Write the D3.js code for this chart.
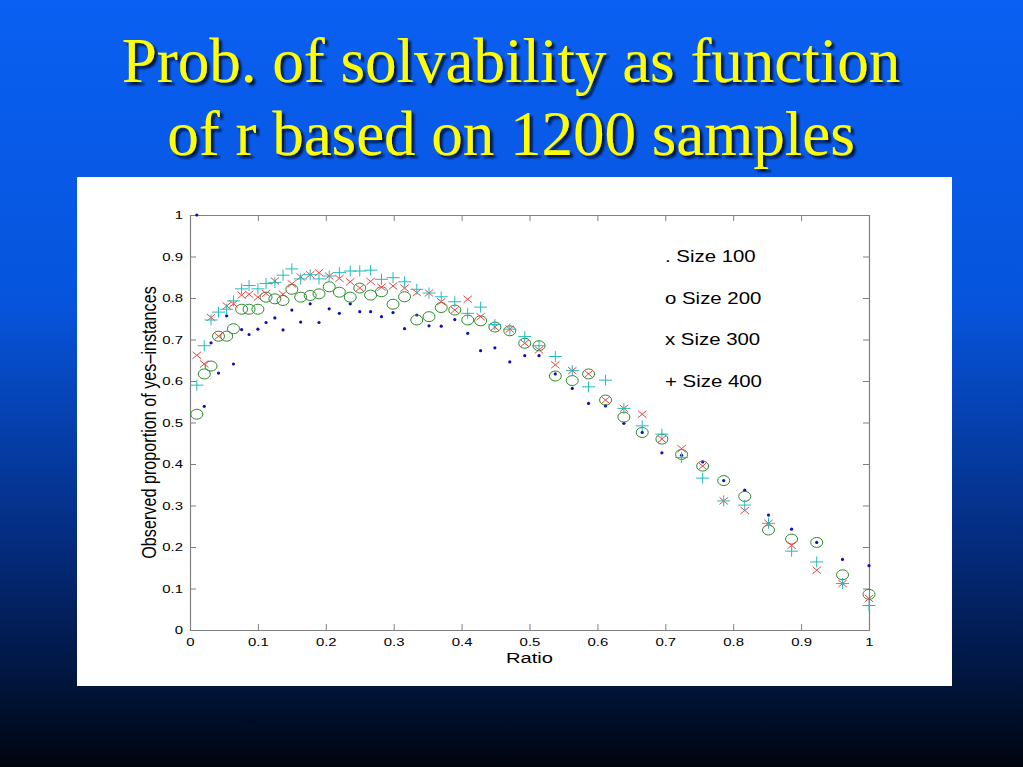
<!DOCTYPE html>
<html>
<head>
<meta charset="utf-8">
<script src="https://cdn.jsdelivr.net/npm/d3@7"></script>
<style>
  html, body { margin: 0; padding: 0; overflow: hidden; }
  body { width: 1023px; height: 767px; }
</style>
</head>
<body>
<div id="wrapper"></div>
<script>
// ratio values (x), shared by all four sample sizes
const ratio = [0.010, 0.021, 0.031, 0.042, 0.054, 0.064, 0.076, 0.087, 0.100, 0.112,
               0.125, 0.137, 0.150, 0.163, 0.177, 0.190, 0.205, 0.220, 0.236, 0.250,
               0.266, 0.282, 0.299, 0.316, 0.334, 0.352, 0.370, 0.390, 0.409, 0.428,
               0.449, 0.471, 0.493, 0.514, 0.538, 0.563, 0.587, 0.612, 0.639, 0.666,
               0.695, 0.724, 0.755, 0.786, 0.817, 0.852, 0.886, 0.923, 0.961, 1.000];

const size100 = [1.000, 0.539, 0.692, 0.619, 0.757, 0.641, 0.724, 0.712, 0.725, 0.741,
                 0.752, 0.723, 0.771, 0.742, 0.786, 0.741, 0.774, 0.763, 0.786, 0.767,
                 0.767, 0.755, 0.765, 0.726, 0.759, 0.733, 0.732, 0.748, 0.715, 0.673,
                 0.680, 0.646, 0.661, 0.661, 0.617, 0.582, 0.546, 0.540, 0.498, 0.476,
                 0.427, 0.421, 0.405, 0.360, 0.337, 0.277, 0.243, 0.211, 0.170, 0.155];

const size200 = [0.520, 0.617, 0.636, 0.708, 0.708, 0.726, 0.773, 0.773, 0.773, 0.802,
                 0.798, 0.794, 0.821, 0.802, 0.806, 0.810, 0.827, 0.814, 0.802, 0.824,
                 0.807, 0.815, 0.785, 0.803, 0.747, 0.755, 0.777, 0.771, 0.747, 0.745,
                 0.730, 0.721, 0.691, 0.685, 0.612, 0.601, 0.617, 0.554, 0.513, 0.476,
                 0.460, 0.423, 0.395, 0.360, 0.322, 0.241, 0.219, 0.211, 0.133, 0.086];

const size300 = [0.662, 0.641, 0.753, 0.708, 0.781, 0.786, 0.807, 0.809, 0.802, 0.811,
                 0.841, 0.809, 0.834, 0.851, 0.856, 0.861, 0.853, 0.847, 0.839, 0.824,
                 0.840, 0.826, 0.829, 0.824, 0.813, 0.812, 0.791, 0.771, 0.797, 0.755,
                 0.730, 0.725, 0.691, 0.675, 0.639, 0.625, 0.617, 0.554, 0.534, 0.520,
                 0.460, 0.437, 0.395, 0.311, 0.288, 0.257, 0.204, 0.144, 0.112, 0.076];

const size400 = [0.590, 0.685, 0.747, 0.766, 0.773, 0.793, 0.822, 0.830, 0.822, 0.835,
                 0.837, 0.855, 0.870, 0.846, 0.856, 0.846, 0.853, 0.861, 0.865, 0.865,
                 0.867, 0.845, 0.849, 0.839, 0.821, 0.812, 0.803, 0.791, 0.763, 0.778,
                 0.736, 0.725, 0.707, 0.685, 0.659, 0.625, 0.586, 0.602, 0.534, 0.492,
                 0.472, 0.416, 0.366, 0.311, 0.301, 0.257, 0.190, 0.164, 0.112, 0.059];

const ticks = [0, 0.1, 0.2, 0.3, 0.4, 0.5, 0.6, 0.7, 0.8, 0.9, 1];
const legendLabels = [". Size 100", "o Size 200", "x Size 300", "+ Size 400"];
const titleLines = ["Prob. of solvability as function", "of r based on 1200 samples"];

const width = 1023, height = 767;
const plot = { left: 190, right: 869, top: 215, bottom: 630 };
// the pasted figure is stretched sideways
const stretch = 1.3;

const svg = d3.select("#wrapper").append("svg")
    .attr("width", width)
    .attr("height", height);

// slide background
const defs = svg.append("defs");
const grad = defs.append("linearGradient")
    .attr("id", "bg").attr("x1", 0).attr("y1", 0).attr("x2", 0).attr("y2", 1);
grad.append("stop").attr("offset", "0%").attr("stop-color", "#0a60f2");
grad.append("stop").attr("offset", "40%").attr("stop-color", "#0654dc");
grad.append("stop").attr("offset", "72%").attr("stop-color", "#042a7a");
grad.append("stop").attr("offset", "88%").attr("stop-color", "#011640");
grad.append("stop").attr("offset", "100%").attr("stop-color", "#00040e");
svg.append("rect").attr("width", width).attr("height", height).attr("fill", "url(#bg)");

const shadow = defs.append("filter").attr("id", "shadow")
    .attr("x", "-5%").attr("y", "-20%").attr("width", "110%").attr("height", "140%");
shadow.append("feDropShadow")
    .attr("dx", 3).attr("dy", 3).attr("stdDeviation", 1.2)
    .attr("flood-color", "#001030").attr("flood-opacity", 0.9);

svg.selectAll(".title")
    .data(titleLines)
    .join("text")
    .attr("class", "title")
    .attr("x", 511)
    .attr("y", (d, i) => 82 + i * 73)
    .attr("text-anchor", "middle")
    .attr("font-family", "'Liberation Serif', 'Times New Roman', serif")
    .attr("font-size", 63)
    .attr("fill", "#ffff00")
    .attr("filter", "url(#shadow)")
    .text(d => d);

// white figure
svg.append("rect")
    .attr("x", 77).attr("y", 177)
    .attr("width", 875).attr("height", 509)
    .attr("fill", "#ffffff");

const x = d3.scaleLinear().domain([0, 1]).range([plot.left, plot.right]);
const y = d3.scaleLinear().domain([0, 1]).range([plot.bottom, plot.top]);

const axisColor = "#808080";
const tickFont = "'Liberation Sans', Arial, Helvetica, sans-serif";

function styleAxis(g, showLabels) {
    g.select(".domain").attr("stroke", axisColor).attr("stroke-width", 1.2);
    g.selectAll(".tick line").attr("stroke", axisColor).attr("stroke-width", 1);
    g.selectAll(".tick text")
        .attr("fill", showLabels ? "#000" : "none")
        .attr("font-family", tickFont)
        .attr("font-size", 11.5);
}

// MATLAB style box with inward ticks on all sides
svg.append("g")
    .attr("transform", `translate(0,${plot.bottom})`)
    .call(d3.axisBottom(x).tickValues(ticks).tickSize(-6).tickSizeOuter(0).tickPadding(8)
        .tickFormat(d3.format("")))
    .call(g => styleAxis(g, true))
    .call(g => g.selectAll(".tick text").attr("transform", `scale(${stretch},1)`));
svg.append("g")
    .attr("transform", `translate(0,${plot.top})`)
    .call(d3.axisTop(x).tickValues(ticks).tickSize(-6).tickSizeOuter(0).tickFormat(""))
    .call(g => styleAxis(g, false));
svg.append("g")
    .attr("transform", `translate(${plot.left},0)`)
    .call(d3.axisLeft(y).tickValues(ticks).tickSize(-6).tickSizeOuter(0)
        .tickFormat(d3.format("")))
    .call(g => styleAxis(g, true))
    .call(g => g.selectAll(".tick text")
        .attr("x", -7 / stretch)
        .attr("transform", `scale(${stretch},1)`));
svg.append("g")
    .attr("transform", `translate(${plot.right},0)`)
    .call(d3.axisRight(y).tickValues(ticks).tickSize(-6).tickSizeOuter(0).tickFormat(""))
    .call(g => styleAxis(g, false));

// axis titles
svg.append("text")
    .attr("transform", `translate(${x(0.5)},663) scale(${stretch},1)`)
    .attr("text-anchor", "middle")
    .attr("font-family", tickFont).attr("font-size", 15.5)
    .text("Ratio");
svg.append("text")
    .attr("transform", `translate(156,${y(0.5)}) scale(${stretch},1) rotate(-90)`)
    .attr("text-anchor", "middle")
    .attr("font-family", tickFont).attr("font-size", 16.2)
    .text("Observed proportion of yes\u2013instances");

// series
const pts = (vals) => ratio.map((r, i) => ({ r: r, v: vals[i] }));

svg.append("g").selectAll("circle")
    .data(pts(size100))
    .join("circle")
    .attr("cx", d => x(d.r)).attr("cy", d => y(d.v))
    .attr("r", 1.6)
    .attr("fill", "#1010b0");

svg.append("g").selectAll("ellipse")
    .data(pts(size200))
    .join("ellipse")
    .attr("cx", d => x(d.r)).attr("cy", d => y(d.v))
    .attr("rx", 6).attr("ry", 5)
    .attr("fill", "none")
    .attr("stroke", "#2a8a2a").attr("stroke-width", 1);

const xw = 4.2, xh = 3.5;
svg.append("g").selectAll("path")
    .data(pts(size300))
    .join("path")
    .attr("d", d => {
        const cx = x(d.r), cy = y(d.v);
        return `M${cx - xw},${cy - xh}L${cx + xw},${cy + xh}M${cx - xw},${cy + xh}L${cx + xw},${cy - xh}`;
    })
    .attr("stroke", "#ee4444").attr("stroke-width", 1).attr("fill", "none");

const pw = 6.5, ph = 5.5;
svg.append("g").selectAll("path")
    .data(pts(size400))
    .join("path")
    .attr("d", d => {
        const cx = x(d.r), cy = y(d.v);
        return `M${cx - pw},${cy}L${cx + pw},${cy}M${cx},${cy - ph}L${cx},${cy + ph}`;
    })
    .attr("stroke", "#22bbbb").attr("stroke-width", 1).attr("fill", "none");

// legend text, as in the original figure
svg.selectAll(".legend")
    .data(legendLabels)
    .join("text")
    .attr("class", "legend")
    .attr("transform", (d, i) => `translate(665,${262 + i * 41.5}) scale(${stretch},1)`)
    .attr("font-family", tickFont)
    .attr("font-size", 15.7)
    .attr("fill", "#000")
    .text(d => d);
</script>
</body>
</html>
